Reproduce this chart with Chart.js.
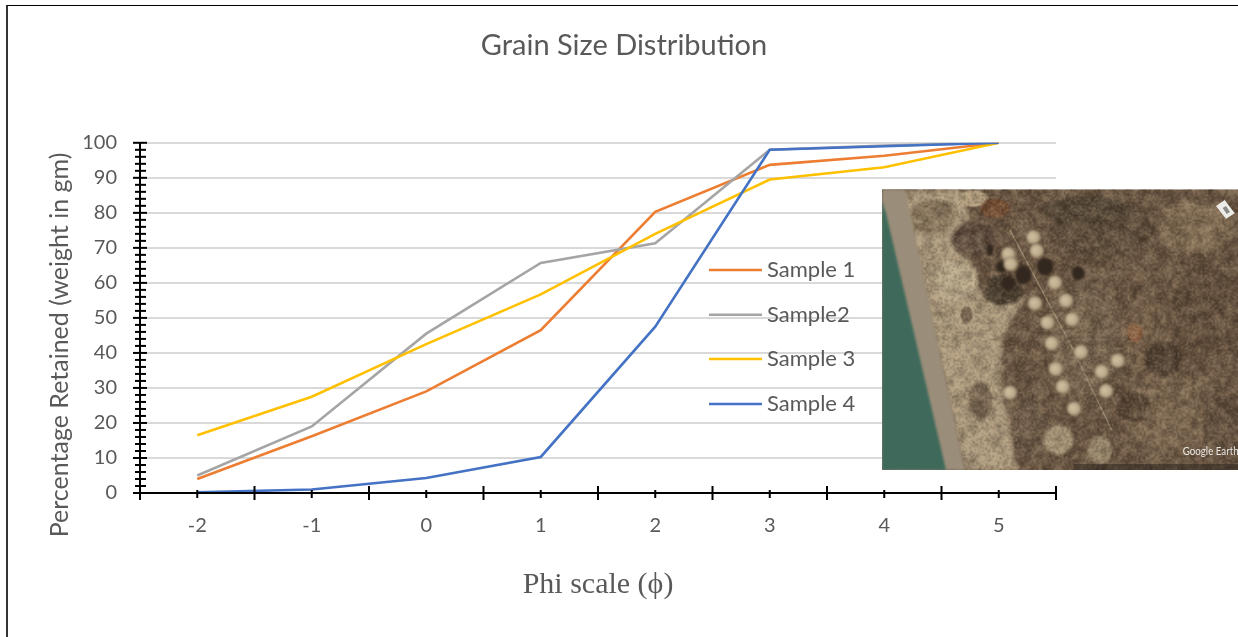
<!DOCTYPE html>
<html>
<head>
<meta charset="utf-8">
<title>Grain Size Distribution</title>
<style>
  html, body { margin: 0; background: #fff; overflow: hidden; }
  #frame { position: absolute; left: 6px; top: 5px; right: 0; bottom: 0; border-left: 2px solid #333; border-top: 1px solid #000; pointer-events: none; }
  canvas { position: absolute; left: 0; top: 0; }
</style>
<script src="https://cdn.jsdelivr.net/npm/chart.js"></script>
</head>
<body>
<canvas id="chart" width="1238" height="637"></canvas>
<div id="frame"></div>
<script>
// data
const categories = ['-2', '-1', '0', '1', '2', '3', '4', '5'];
const sample1 = [4, 16.2, 29, 46.5, 80.3, 93.7, 96.3, 100];
const sample2 = [5, 19, 45.5, 65.7, 71.3, 98, 99.2, 100];
const sample3 = [16.5, 27.5, 42.5, 56.7, 74, 89.5, 93, 100];
const sample4 = [0.2, 1, 4.3, 10.3, 47.5, 98, 99, 100];
const minorStep = 2;
const yTitle = 'Percentage Retained (weight in gm)';

const textColor = '#595959';
const sansFont = 'Lato, "Noto Sans", sans-serif';

// axis lines and tick marks, the chart has ticks on both sides of the axis
const axisTicks = {
    id: 'axisTicks',
    afterDatasetsDraw(chart) {
        const { ctx, chartArea, scales } = chart;
        ctx.save();
        ctx.strokeStyle = '#000';
        ctx.lineWidth = 2;
        const line = (x1, y1, x2, y2) => {
            ctx.beginPath();
            ctx.moveTo(x1, y1);
            ctx.lineTo(x2, y2);
            ctx.stroke();
        };
        line(chartArea.left, chartArea.top, chartArea.left, chartArea.bottom);
        line(chartArea.left, chartArea.bottom, chartArea.right, chartArea.bottom);
        for (let v = 0; v <= 100; v += minorStep) {
            const y = scales.y.getPixelForValue(v);
            if (v % 10 === 0) line(chartArea.left - 7, y, chartArea.left + 7, y);
            else line(chartArea.left - 5, y, chartArea.left + 6, y);
        }
        categories.forEach((c, i) => {
            const x = scales.x.getPixelForValue(i);
            line(x, chartArea.bottom - 3, x, chartArea.bottom + 5);
            const half = (scales.x.getPixelForValue(1) - scales.x.getPixelForValue(0)) / 2;
            line(x - half, chartArea.bottom - 7, x - half, chartArea.bottom + 7);
            if (i === categories.length - 1) line(x + half, chartArea.bottom - 7, x + half, chartArea.bottom + 7);
        });
        ctx.restore();
    }
};

// the y title hangs lower than the plot centre, the scale title can't do that
const lowYTitle = {
    id: 'lowYTitle',
    afterDatasetsDraw(chart) {
        const { ctx } = chart;
        ctx.save();
        ctx.translate(60, 345);
        ctx.rotate(-Math.PI / 2);
        ctx.font = '25px ' + sansFont;
        ctx.fillStyle = textColor;
        ctx.textAlign = 'center';
        ctx.textBaseline = 'middle';
        ctx.fillText(yTitle, 0, 0);
        ctx.restore();
    }
};

// legend sits inside the plot in the original
const innerLegend = {
    id: 'innerLegend',
    afterDatasetsDraw(chart) {
        const { ctx } = chart;
        const rows = [270, 314.7, 359, 404];
        ctx.save();
        ctx.font = '22px ' + sansFont;
        ctx.textBaseline = 'middle';
        chart.data.datasets.forEach((ds, i) => {
            ctx.strokeStyle = ds.borderColor;
            ctx.lineWidth = 2.5;
            ctx.beginPath();
            ctx.moveTo(709, rows[i]);
            ctx.lineTo(762, rows[i]);
            ctx.stroke();
            ctx.fillStyle = textColor;
            ctx.fillText(ds.label, 767, rows[i]);
        });
        ctx.restore();
    }
};

// satellite photo inset, painted since no image file is available
function hash(x, y) {
    const s = Math.sin(x * 12.9898 + y * 78.233) * 43758.5453;
    return s - Math.floor(s);
}

function noiseLayer(w, h, strength) {
    const c = document.createElement('canvas');
    c.width = w;
    c.height = h;
    const g = c.getContext('2d');
    const img = g.createImageData(w, h);
    for (let y = 0; y < h; y++) {
        for (let x = 0; x < w; x++) {
            const n = hash(x, y + w);
            const p = (y * w + x) * 4;
            img.data[p] = n > 0.55 ? 215 : 28;
            img.data[p + 1] = n > 0.55 ? 190 : 18;
            img.data[p + 2] = n > 0.55 ? 155 : 10;
            img.data[p + 3] = Math.abs(n - 0.55) * 2 * strength;
        }
    }
    g.putImageData(img, 0, 0);
    return c;
}

function poly(ctx, pts, color, blur) {
    ctx.save();
    if (blur) ctx.filter = 'blur(' + blur + 'px)';
    ctx.fillStyle = color;
    ctx.beginPath();
    pts.forEach((p, i) => (i ? ctx.lineTo(p[0], p[1]) : ctx.moveTo(p[0], p[1])));
    ctx.closePath();
    ctx.fill();
    ctx.restore();
}

function blob(ctx, x, y, rx, ry, color) {
    ctx.save();
    ctx.translate(x, y);
    ctx.scale(rx, ry);
    const g = ctx.createRadialGradient(0, 0, 0.2, 0, 0, 1);
    g.addColorStop(0, color);
    g.addColorStop(0.7, color);
    g.addColorStop(1, color + '00');
    ctx.fillStyle = g;
    ctx.beginPath();
    ctx.arc(0, 0, 1, 0, Math.PI * 2);
    ctx.fill();
    ctx.restore();
}

const photoInset = {
    id: 'photoInset',
    afterDraw(chart) {
        const { ctx } = chart;
        ctx.save();
        // coordinates below are 3x, measured from a crop starting at 870,130
        ctx.translate(870, 130);
        ctx.scale(1 / 3, 1 / 3);
        ctx.beginPath();
        ctx.rect(36, 178, 1068, 842);
        ctx.clip();

        ctx.fillStyle = '#6c5845';
        ctx.fillRect(36, 178, 1068, 842);
        [[980, 290, 130, 90, '#877259'], [1000, 560, 110, 150, '#63503e'], [700, 300, 170, 100, '#5c4c3b'],
         [900, 850, 150, 150, '#7d6852'], [820, 620, 90, 120, '#75604b'], [640, 620, 120, 220, '#7a6752'],
         [650, 240, 150, 50, '#544738'], [880, 690, 60, 60, '#4f4033'], [790, 830, 60, 50, '#5a4838'],
         [1050, 880, 60, 100, '#685543']].forEach(b => blob(ctx, ...b));

        // beach
        poly(ctx, [[90, 178], [270, 178], [300, 262], [255, 320], [300, 400], [345, 515], [470, 495], [395, 620], [395, 760], [445, 1020], [285, 1020]], '#b5a386', 2);
        blob(ctx, 310, 205, 50, 28, '#c0ac8c');
        blob(ctx, 190, 260, 80, 60, '#8f7c64');
        blob(ctx, 260, 450, 70, 70, '#c2b294');
        blob(ctx, 330, 810, 40, 65, '#7f6d59');
        blob(ctx, 480, 890, 60, 110, '#6f5c4a');
        blob(ctx, 565, 930, 50, 50, '#a8967a');
        blob(ctx, 690, 960, 40, 50, '#a08e74');
        blob(ctx, 290, 555, 20, 28, '#7f6d59');

        // darker scrub
        blob(ctx, 310, 330, 72, 62, '#5e4c3f');
        blob(ctx, 400, 480, 66, 52, '#4d4234');
        blob(ctx, 375, 235, 50, 32, '#7b5237');
        blob(ctx, 795, 610, 26, 32, '#8a5f40');

        // track through the mounds
        ctx.strokeStyle = '#a08f75';
        ctx.lineWidth = 4;
        ctx.beginPath();
        ctx.moveTo(420, 300);
        ctx.lineTo(600, 640);
        ctx.lineTo(725, 900);
        ctx.stroke();

        // mottled texture, coarse then fine
        ctx.imageSmoothingEnabled = true;
        ctx.drawImage(noiseLayer(60, 48, 60), 36, 178, 1068, 842);
        ctx.drawImage(noiseLayer(200, 158, 55), 36, 178, 1068, 842);

        // water and shoreline go over the texture, they are smooth in the photo
        poly(ctx, [[36, 178], [105, 178], [285, 1020], [36, 1020]], '#9a8d79', 1);
        poly(ctx, [[36, 215], [48, 250], [228, 1020], [36, 1020]], '#3f6a5b', 1);

        // trees and mounds, softened like the low resolution photo
        ctx.save();
        ctx.filter = 'blur(1px)';
        [[395, 410, 20, 20], [415, 460, 24, 24], [460, 435, 28, 32], [525, 410, 28, 30], [625, 430, 22, 24], [360, 360, 12, 20]]
            .forEach(t => blob(ctx, t[0], t[1], t[2], t[3], '#33281f'));
        [[490, 322], [500, 362], [415, 372], [422, 402], [555, 458], [588, 512], [495, 520], [532, 578], [606, 568],
         [545, 640], [633, 666], [557, 717], [578, 770], [612, 836], [695, 725], [743, 692], [708, 783], [420, 788]].forEach(m => {
            const g = ctx.createRadialGradient(m[0] - 5, m[1] - 3, 2, m[0], m[1], 22);
            g.addColorStop(0, '#cfbf9f');
            g.addColorStop(0.7, '#bba98b');
            g.addColorStop(1, '#8c7a62');
            ctx.fillStyle = g;
            ctx.beginPath();
            ctx.arc(m[0], m[1], 22, 0, Math.PI * 2);
            ctx.fill();
        });
        ctx.restore();

        // building top right
        poly(ctx, [[1038, 228], [1064, 210], [1094, 250], [1068, 266]], '#ecece8');
        poly(ctx, [[1058, 234], [1068, 228], [1080, 246], [1070, 252]], '#8a8a8a');

        // imagery credit strip
        ctx.fillStyle = 'rgba(40,34,28,0.5)';
        ctx.fillRect(610, 1002, 494, 18);

        ctx.fillStyle = 'rgba(255,255,255,0.85)';
        ctx.font = '37px ' + sansFont;
        ctx.textBaseline = 'middle';
        ctx.fillText('Google Earth', 938, 962, 168);
        ctx.restore();
    }
};

new Chart(document.getElementById('chart'), {
    type: 'line',
    data: {
        labels: categories,
        datasets: [
            { label: 'Sample 1', data: sample1, borderColor: '#ED7D31', order: 4 },
            { label: 'Sample2', data: sample2, borderColor: '#A5A5A5', order: 3 },
            { label: 'Sample 3', data: sample3, borderColor: '#FFC000', order: 2 },
            { label: 'Sample 4', data: sample4, borderColor: '#4472C4', order: 1 }
        ]
    },
    options: {
        responsive: false,
        animation: false,
        devicePixelRatio: 1,
        layout: { padding: { left: 10 } },
        elements: {
            line: { borderWidth: 2.6, tension: 0, fill: false },
            point: { radius: 0 }
        },
        plugins: {
            legend: { display: false },
            tooltip: { enabled: false },
            title: {
                display: true,
                text: 'Grain Size Distribution',
                color: textColor,
                font: { family: sansFont, size: 29, weight: 'normal' },
                padding: { top: 28, bottom: 80 }
            }
        },
        scales: {
            x: {
                offset: true,
                grid: { display: false },
                border: { display: false },
                afterFit: s => { s.height = 144; },
                ticks: { color: textColor, font: { family: sansFont, size: 20 }, padding: 13, maxRotation: 0 },
                title: {
                    display: true,
                    text: 'Phi scale (\u03d5)',
                    color: textColor,
                    font: { family: '"Liberation Serif", serif', size: 30 },
                    padding: { top: 0, bottom: 34 }
                }
            },
            y: {
                min: 0,
                max: 100,
                grid: { color: '#d9d9d9', lineWidth: 2, drawTicks: false },
                border: { display: false },
                afterFit: s => { s.width = 130; },
                ticks: { stepSize: 10, color: textColor, font: { family: sansFont, size: 20 }, padding: 23 }
            },
            // empty axis, only keeps the plot clear of the photo side
            spacer: {
                position: 'right',
                grid: { display: false },
                border: { display: false },
                ticks: { display: false },
                afterFit: s => { s.width = 182; }
            }
        }
    },
    plugins: [axisTicks, lowYTitle, innerLegend, photoInset]
});
</script>
</body>
</html>
